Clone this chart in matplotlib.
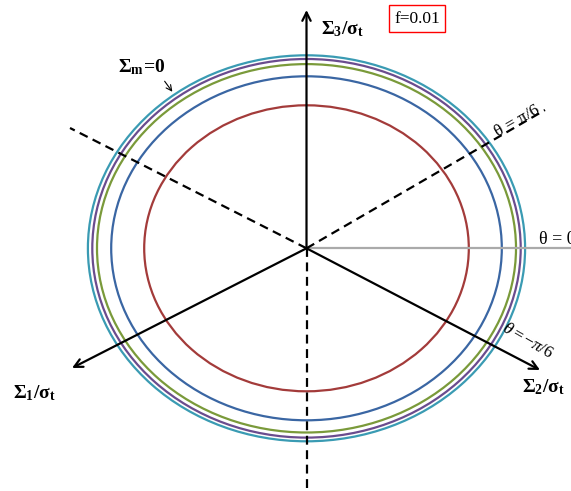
import matplotlib
matplotlib.use("Agg")
import matplotlib.pyplot as plt
from matplotlib.patches import Ellipse

plt.rcParams['mathtext.fontset'] = 'custom'
plt.rcParams['mathtext.rm'] = 'Liberation Serif'
plt.rcParams['mathtext.it'] = 'Liberation Serif:italic'
plt.rcParams['mathtext.bf'] = 'Liberation Serif:bold'
plt.rcParams['font.family'] = ['Liberation Serif', 'DejaVu Serif']

# yield surfaces (semi-axes, in picture units), smallest to largest
semi_x = [162.3, 195.3, 209.5, 214.2, 218.6]
semi_y = [143.0, 172.0, 184.2, 189.3, 193.0]
colors = ['#A33B3A', '#3A66A3', '#7A9A3A', '#6A4C8E', '#3A9BB3']
center = (306.5, 248.3)

fig = plt.figure(figsize=(5.71, 4.91), dpi=100)
ax = fig.add_axes([0, 0, 1, 1])
ax.set_xlim(0, 571)
ax.set_ylim(491, 0)
ax.axis('off')

for a, b, c in zip(semi_x, semi_y, colors):
    ax.add_patch(Ellipse(center, 2 * a, 2 * b, fill=False, ec=c, lw=1.6))

cx, cy = center
# theta = 0 line
ax.plot([cx, 571], [cy, cy], color='#aaaaaa', lw=1.6)
# dashed lines
dash = dict(color='black', lw=1.6, dashes=(4, 2.5))
ax.plot([cx, 70], [cy, 128], **dash)
ax.plot([cx, 545], [cy, 110], **dash)
ax.plot([cx, cx], [cy, 489], **dash)

arrow = dict(arrowstyle='->,head_length=0.6,head_width=0.3', color='black', lw=1.6,
             shrinkA=0, shrinkB=0)
ax.annotate('', xy=(cx, 10), xytext=(cx, cy), arrowprops=arrow)
ax.annotate('', xy=(72, 368), xytext=(cx, cy), arrowprops=arrow)
ax.annotate('', xy=(540, 370), xytext=(cx, cy), arrowprops=arrow)

ax.text(321, 29, r'$\mathbf{\Sigma_3/\sigma_t}$', fontsize=14, va='center', ha='left')
ax.text(13, 393, r'$\mathbf{\Sigma_1/\sigma_t}$', fontsize=14, va='center', ha='left')
ax.text(522, 387, r'$\mathbf{\Sigma_2/\sigma_t}$', fontsize=14, va='center', ha='left')
ax.text(118, 67, r'$\mathbf{\Sigma_m\!=\!0}$', fontsize=14, va='center', ha='left')
ax.annotate('', xy=(174, 94), xytext=(163, 79),
            arrowprops=dict(arrowstyle='->', color='black', lw=0.8))

ax.text(417, 18.5, 'f=0.01', fontsize=12.5, va='center', ha='center',
        bbox=dict(boxstyle='square,pad=0.3', fc='white', ec='red', lw=1))

ax.text(517, 121, 'θ = π/6', fontsize=12.5, rotation=30, va='center', ha='center')
ax.text(539, 239, 'θ = 0', fontsize=13, va='center', ha='left')
ax.text(528, 341, r'$\theta = -\pi/6$', fontsize=12.5, rotation=-30, va='center', ha='center')

fig.savefig('out.png', dpi=100)
